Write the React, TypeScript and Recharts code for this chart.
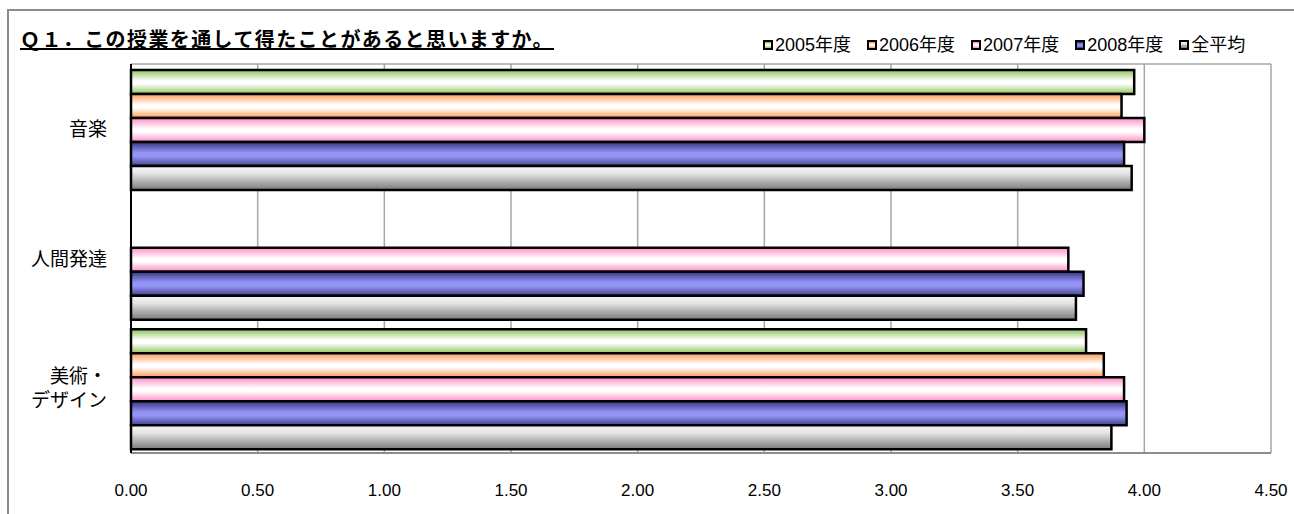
import { BarChart, Bar, XAxis, YAxis, CartesianGrid } from "recharts";

const categories = ["音楽", "人間発達", "美術・\nデザイン"];
const y2005 = [3.96, null, 3.77];
const y2006 = [3.91, null, 3.84];
const y2007 = [4.0, 3.7, 3.92];
const y2008 = [3.92, 3.76, 3.93];
const overall = [3.95, 3.73, 3.87];
const xTicks = [0, 0.5, 1, 1.5, 2, 2.5, 3, 3.5, 4, 4.5];

const SERIES = [
  { key: "y2005", label: "2005年度", id: "g2005", stops: [["0%", "#8CC45A"], ["45%", "#ffffff"], ["58%", "#ffffff"], ["100%", "#8CC45A"]] },
  { key: "y2006", label: "2006年度", id: "g2006", stops: [["0%", "#FF9A55"], ["45%", "#ffffff"], ["58%", "#ffffff"], ["100%", "#FF9A55"]] },
  { key: "y2007", label: "2007年度", id: "g2007", stops: [["0%", "#FF8CC6"], ["45%", "#ffffff"], ["58%", "#ffffff"], ["100%", "#FF8CC6"]] },
  { key: "y2008", label: "2008年度", id: "g2008", stops: [["0%", "#36367F"], ["45%", "#9494F6"], ["60%", "#9494F6"], ["100%", "#42428F"]] },
  { key: "overall", label: "全平均", id: "gAll", stops: [["0%", "#F6F6F6"], ["30%", "#E6E6E6"], ["100%", "#7A7A7A"]] },
];

const rows = categories.map((name, i) => ({
  name,
  y2005: y2005[i],
  y2006: y2006[i],
  y2007: y2007[i],
  y2008: y2008[i],
  overall: overall[i],
}));

const FONT = '"Liberation Sans", "Noto Sans CJK JP", sans-serif';

function CatTick({ x, y, payload }: any) {
  const lines = String(payload.value).split("\n");
  const lh = 24;
  return (
    <text x={x} y={y} textAnchor="end" fontSize={19} fill="#000" fontFamily={FONT}>
      {lines.map((ln, i) => (
        <tspan key={i} x={x} dy={i === 0 ? -((lines.length - 1) * lh) / 2 + 7 : lh}>
          {ln}
        </tspan>
      ))}
    </text>
  );
}

function swatch(stops: string[][]) {
  return `linear-gradient(to bottom, ${stops.map(([o, c]) => `${c} ${o}`).join(", ")})`;
}

export default function App() {
  return (
    <div style={{ position: "absolute", left: 0, top: 0, width: 1294, height: 514, background: "#fff", overflow: "hidden", fontFamily: FONT }}>
      <div style={{ position: "absolute", left: 7, top: 9, width: 1300, height: 520, borderLeft: "2px solid #8c8c8c", borderTop: "2px solid #8c8c8c" }} />
      <div style={{ position: "absolute", left: 20, top: 26, fontSize: 20, fontWeight: "bold", textDecoration: "underline", letterSpacing: 1.4, fontFamily: '"Noto Sans CJK JP", sans-serif', lineHeight: "26px" }}>
        Ｑ１．この授業を通して得たことがあると思いますか。
      </div>
      <div style={{ position: "absolute", left: 763, top: 34, display: "flex", fontSize: 18, lineHeight: "22px" }}>
        {SERIES.map((s) => (
          <div key={s.key} style={{ display: "flex", alignItems: "center", marginRight: 16 }}>
            <span style={{ display: "inline-block", width: 6, height: 6, border: "2px solid #000", background: swatch(s.stops), marginRight: 2 }} />
            <span>{s.label}</span>
          </div>
        ))}
      </div>
      <div style={{ position: "absolute", left: 0, top: 0 }}>
        <BarChart
          layout="vertical"
          width={1294}
          height={514}
          data={rows}
          margin={{ top: 64, right: 23, bottom: 0, left: 0 }}
          barCategoryGap={6}
          barGap={0}
        >
          <defs>
            {SERIES.map((s) => (
              <linearGradient key={s.id} id={s.id} x1="0" y1="0" x2="0" y2="1">
                {s.stops.map(([o, c]) => (
                  <stop key={o} offset={o} stopColor={c} />
                ))}
              </linearGradient>
            ))}
          </defs>
          <CartesianGrid
            stroke="#a6a6a6"
            strokeWidth={1.5}
            horizontalCoordinatesGenerator={({ offset }: any) => [offset.top]}
          />
          <XAxis
            type="number"
            domain={[0, 4.5]}
            ticks={xTicks}
            tickFormatter={(v: number) => v.toFixed(2)}
            height={61}
            axisLine={{ stroke: "#8c8c8c", strokeWidth: 2 }}
            tickLine={false}
            tickSize={0}
            tickMargin={31}
            tick={{ fill: "#000", fontSize: 17, fontFamily: FONT }}
          />
          <YAxis
            type="category"
            dataKey="name"
            width={131}
            axisLine={{ stroke: "#000", strokeWidth: 2 }}
            tickLine={false}
            tickSize={0}
            tickMargin={24}
            tick={<CatTick />}
          />
          {SERIES.map((s) => (
            <Bar
              key={s.key}
              dataKey={s.key}
              name={s.label}
              fill={`url(#${s.id})`}
              stroke="#000"
              strokeWidth={2.5}
              isAnimationActive={false}
            />
          ))}
        </BarChart>
      </div>
    </div>
  );
}
